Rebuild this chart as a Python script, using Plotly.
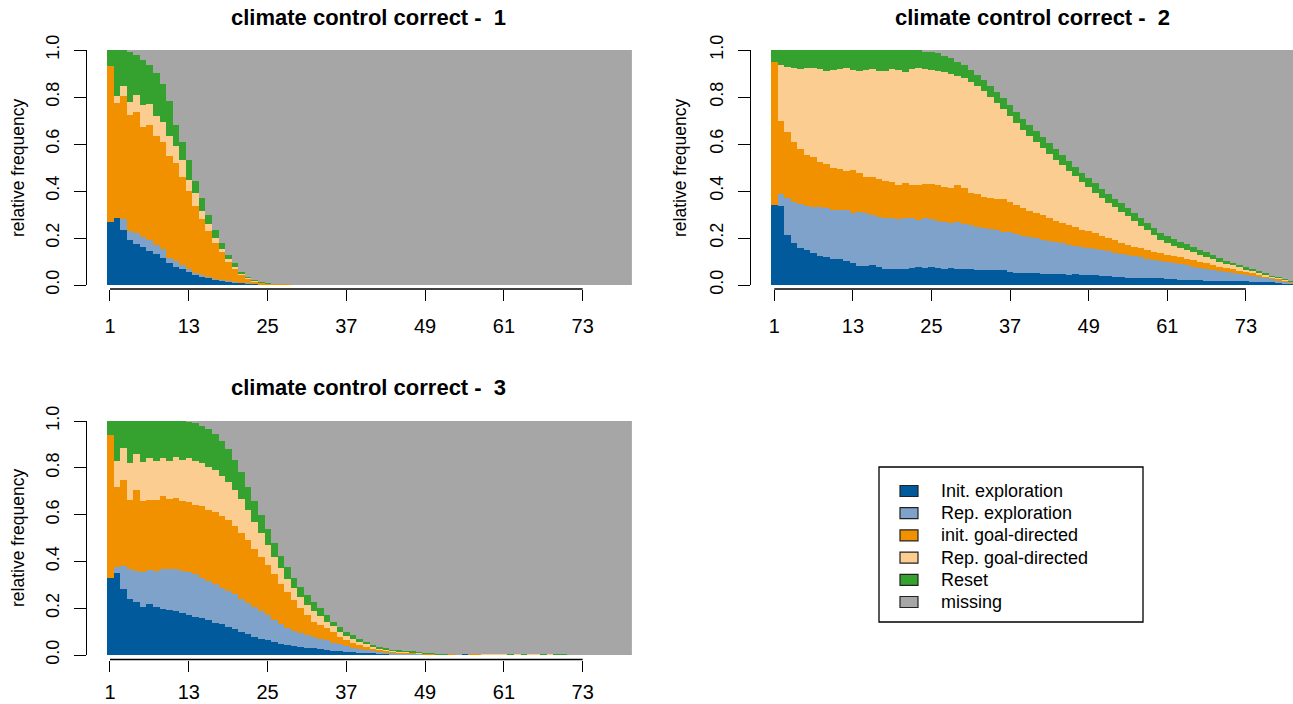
import plotly.graph_objects as go

# ---------------- data (relative frequencies per step) ----------------
steps = list(range(1, 81))
tick_vals = [1, 13, 25, 37, 49, 61, 73]
y_tick_vals = [0, 0.2, 0.4, 0.6, 0.8, 1.0]
y_tick_text = ["0.0", "0.2", "0.4", "0.6", "0.8", "1.0"]

series_names = ["Init. exploration", "Rep. exploration", "init. goal-directed",
                "Rep. goal-directed", "Reset", "missing"]
series_colors = ["#005a9b", "#7fa2ca", "#f29100", "#fbcd91", "#35a22f", "#a6a6a6"]

panel_titles = ["climate control correct -  1", "climate control correct -  2",
                "climate control correct -  3"]

# panel 1
p1_init = [0.267, 0.287, 0.236, 0.19, 0.173, 0.16, 0.146, 0.132, 0.113, 0.095,
           0.078, 0.067, 0.057, 0.043, 0.035, 0.031, 0.024, 0.02, 0.016, 0.012,
           0.009, 0.007, 0.005, 0.003, 0.002, 0.001, 0, 0, 0, 0,
           0, 0, 0, 0, 0, 0, 0, 0, 0, 0,
           0, 0, 0, 0, 0, 0, 0, 0, 0, 0,
           0, 0, 0, 0, 0, 0, 0, 0, 0, 0,
           0, 0, 0, 0, 0, 0, 0, 0, 0, 0,
           0, 0, 0, 0, 0, 0, 0, 0, 0, 0]
p1_repexp = [0, 0, 0.045, 0.04, 0.047, 0.043, 0.044, 0.038, 0.039, 0.018,
             0.026, 0.018, 0.01, 0.009, 0.006, 0.004, 0.003, 0.002, 0.001, 0.001,
             0.001, 0.001, 0, 0, 0, 0, 0, 0, 0, 0,
             0, 0, 0, 0, 0, 0, 0, 0, 0, 0,
             0, 0, 0, 0, 0, 0, 0, 0, 0, 0,
             0, 0, 0, 0, 0, 0, 0, 0, 0, 0,
             0, 0, 0, 0, 0, 0, 0, 0, 0, 0,
             0, 0, 0, 0, 0, 0, 0, 0, 0, 0]
p1_initgoal = [0.666, 0.486, 0.525, 0.493, 0.515, 0.471, 0.49, 0.464, 0.458, 0.437,
               0.416, 0.375, 0.333, 0.283, 0.239, 0.195, 0.153, 0.118, 0.083, 0.057,
               0.035, 0.02, 0.011, 0.007, 0.005, 0.004, 0.004, 0.003, 0, 0,
               0, 0, 0, 0, 0, 0, 0, 0, 0, 0,
               0, 0, 0, 0, 0, 0, 0, 0, 0, 0,
               0, 0, 0, 0, 0, 0, 0, 0, 0, 0,
               0, 0, 0, 0, 0, 0, 0, 0, 0, 0,
               0, 0, 0, 0, 0, 0, 0, 0, 0, 0]
p1_repgoal = [0, 0.033, 0.042, 0.057, 0.075, 0.091, 0.09, 0.086, 0.085, 0.085,
              0.07, 0.07, 0.045, 0.055, 0.035, 0.03, 0.02, 0.015, 0.01, 0.008,
              0.005, 0.003, 0.002, 0.001, 0, 0, 0, 0, 0, 0,
              0, 0, 0, 0, 0, 0, 0, 0, 0, 0,
              0, 0, 0, 0, 0, 0, 0, 0, 0, 0,
              0, 0, 0, 0, 0, 0, 0, 0, 0, 0,
              0, 0, 0, 0, 0, 0, 0, 0, 0, 0,
              0, 0, 0, 0, 0, 0, 0, 0, 0, 0]
p1_reset = [0.067, 0.194, 0.152, 0.213, 0.169, 0.192, 0.166, 0.181, 0.159, 0.148,
            0.091, 0.08, 0.087, 0.053, 0.054, 0.038, 0.034, 0.022, 0.018, 0.014,
            0.007, 0.004, 0.002, 0.001, 0.001, 0, 0, 0, 0, 0,
            0, 0, 0, 0, 0, 0, 0, 0, 0, 0,
            0, 0, 0, 0, 0, 0, 0, 0, 0, 0,
            0, 0, 0, 0, 0, 0, 0, 0, 0, 0,
            0, 0, 0, 0, 0, 0, 0, 0, 0, 0,
            0, 0, 0, 0, 0, 0, 0, 0, 0, 0]

# panel 2
p2_init = [0.34, 0.338, 0.213, 0.177, 0.156, 0.149, 0.135, 0.125, 0.118, 0.11,
           0.11, 0.102, 0.092, 0.082, 0.082, 0.085, 0.078, 0.068, 0.068, 0.07,
           0.07, 0.073, 0.078, 0.073, 0.078, 0.073, 0.068, 0.073, 0.068, 0.068,
           0.068, 0.064, 0.064, 0.064, 0.064, 0.064, 0.057, 0.05, 0.05, 0.05,
           0.049, 0.047, 0.046, 0.045, 0.045, 0.044, 0.045, 0.043, 0.044, 0.043,
           0.04, 0.037, 0.034, 0.032, 0.031, 0.03, 0.029, 0.029, 0.028, 0.028,
           0.026, 0.025, 0.023, 0.022, 0.021, 0.02, 0.019, 0.018, 0.018, 0.017,
           0.016, 0.016, 0.015, 0.014, 0.014, 0.012, 0.011, 0.01, 0.008, 0.006]
p2_repexp = [0, 0.049, 0.156, 0.175, 0.187, 0.187, 0.198, 0.205, 0.208, 0.209,
             0.209, 0.217, 0.213, 0.23, 0.223, 0.213, 0.212, 0.216, 0.216, 0.209,
             0.214, 0.211, 0.199, 0.211, 0.201, 0.199, 0.202, 0.192, 0.202, 0.192,
             0.187, 0.184, 0.18, 0.174, 0.17, 0.163, 0.167, 0.167, 0.16, 0.155,
             0.15, 0.146, 0.142, 0.137, 0.132, 0.128, 0.122, 0.12, 0.114, 0.11,
             0.108, 0.106, 0.104, 0.101, 0.097, 0.093, 0.089, 0.083, 0.079, 0.074,
             0.071, 0.067, 0.065, 0.061, 0.057, 0.054, 0.051, 0.047, 0.043, 0.04,
             0.037, 0.032, 0.029, 0.026, 0.021, 0.018, 0.015, 0.011, 0.008, 0.005]
p2_initgoal = [0.608, 0.311, 0.281, 0.258, 0.236, 0.217, 0.21, 0.192, 0.187, 0.181,
               0.175, 0.166, 0.184, 0.163, 0.156, 0.163, 0.161, 0.159, 0.153, 0.147,
               0.149, 0.142, 0.149, 0.144, 0.149, 0.154, 0.148, 0.149, 0.156, 0.154,
               0.135, 0.138, 0.132, 0.134, 0.132, 0.139, 0.131, 0.123, 0.116, 0.11,
               0.106, 0.103, 0.097, 0.091, 0.085, 0.082, 0.078, 0.073, 0.07, 0.067,
               0.062, 0.057, 0.052, 0.047, 0.042, 0.04, 0.038, 0.037, 0.035, 0.033,
               0.032, 0.031, 0.03, 0.029, 0.028, 0.025, 0.022, 0.02, 0.017, 0.014,
               0.013, 0.012, 0.01, 0.009, 0.008, 0.007, 0.005, 0.005, 0.004, 0.003]
p2_repgoal = [0, 0.238, 0.279, 0.312, 0.34, 0.372, 0.379, 0.397, 0.398, 0.415,
              0.425, 0.437, 0.426, 0.436, 0.454, 0.458, 0.46, 0.468, 0.482, 0.489,
              0.475, 0.493, 0.499, 0.491, 0.487, 0.485, 0.487, 0.482, 0.464, 0.465,
              0.472, 0.459, 0.449, 0.428, 0.409, 0.382, 0.365, 0.35, 0.334, 0.317,
              0.303, 0.288, 0.273, 0.26, 0.247, 0.231, 0.217, 0.202, 0.188, 0.173,
              0.161, 0.15, 0.14, 0.131, 0.122, 0.109, 0.096, 0.084, 0.07, 0.057,
              0.049, 0.045, 0.04, 0.036, 0.033, 0.03, 0.027, 0.024, 0.022, 0.02,
              0.018, 0.016, 0.014, 0.012, 0.01, 0.008, 0.006, 0.004, 0.003, 0.002]
p2_reset = [0.052, 0.064, 0.071, 0.078, 0.081, 0.075, 0.078, 0.081, 0.089, 0.085,
            0.081, 0.078, 0.085, 0.089, 0.085, 0.081, 0.089, 0.089, 0.081, 0.085,
            0.092, 0.081, 0.075, 0.076, 0.075, 0.075, 0.071, 0.069, 0.06, 0.057,
            0.053, 0.049, 0.047, 0.048, 0.048, 0.046, 0.046, 0.048, 0.046, 0.048,
            0.047, 0.046, 0.045, 0.044, 0.043, 0.042, 0.041, 0.04, 0.039, 0.04,
            0.039, 0.038, 0.037, 0.036, 0.035, 0.034, 0.033, 0.032, 0.031, 0.03,
            0.029, 0.027, 0.026, 0.025, 0.023, 0.022, 0.021, 0.02, 0.015, 0.011,
            0.01, 0.009, 0.008, 0.006, 0.005, 0.004, 0.003, 0.002, 0.001, 0.001]

# panel 3
p3_init = [0.33, 0.352, 0.28, 0.24, 0.226, 0.207, 0.217, 0.207, 0.198, 0.192,
           0.188, 0.178, 0.171, 0.164, 0.157, 0.15, 0.138, 0.131, 0.121, 0.11,
           0.098, 0.088, 0.078, 0.07, 0.064, 0.056, 0.048, 0.041, 0.038, 0.034,
           0.031, 0.028, 0.024, 0.021, 0.018, 0.015, 0.013, 0.011, 0.01, 0.009,
           0.007, 0.006, 0.005, 0.004, 0.004, 0.003, 0.003, 0.002, 0.002, 0.002,
           0.001, 0, 0, 0, 0.003, 0, 0, 0, 0, 0,
           0, 0, 0, 0, 0, 0, 0, 0, 0, 0,
           0, 0, 0, 0, 0, 0, 0, 0, 0, 0]
p3_repexp = [0, 0.025, 0.1, 0.126, 0.133, 0.148, 0.146, 0.152, 0.168, 0.177,
             0.178, 0.181, 0.184, 0.181, 0.173, 0.166, 0.164, 0.157, 0.153, 0.149,
             0.143, 0.136, 0.129, 0.118, 0.106, 0.094, 0.083, 0.074, 0.065, 0.061,
             0.054, 0.05, 0.046, 0.041, 0.032, 0.03, 0.025, 0.021, 0.017, 0.013,
             0.011, 0.008, 0.006, 0.005, 0.004, 0.004, 0.003, 0.003, 0.002, 0.001,
             0.001, 0.001, 0, 0, 0, 0, 0, 0, 0, 0,
             0, 0, 0, 0, 0, 0, 0, 0, 0, 0,
             0, 0, 0, 0, 0, 0, 0, 0, 0, 0]
p3_initgoal = [0.609, 0.343, 0.37, 0.298, 0.348, 0.302, 0.301, 0.305, 0.312, 0.296,
               0.306, 0.301, 0.297, 0.298, 0.305, 0.304, 0.308, 0.307, 0.301, 0.291,
               0.279, 0.266, 0.248, 0.232, 0.215, 0.195, 0.174, 0.155, 0.132, 0.105,
               0.086, 0.064, 0.06, 0.052, 0.05, 0.033, 0.026, 0.021, 0.016, 0.014,
               0.011, 0.008, 0.007, 0.006, 0.004, 0.003, 0.003, 0.002, 0.002, 0.002,
               0.001, 0.001, 0.003, 0, 0, 0.004, 0.004, 0, 0, 0,
               0, 0, 0, 0, 0, 0, 0, 0, 0, 0,
               0, 0, 0, 0, 0, 0, 0, 0, 0, 0]
p3_repgoal = [0, 0.109, 0.136, 0.156, 0.15, 0.168, 0.179, 0.166, 0.162, 0.165,
              0.176, 0.175, 0.188, 0.187, 0.185, 0.185, 0.18, 0.17, 0.165, 0.155,
              0.145, 0.13, 0.115, 0.1, 0.085, 0.075, 0.065, 0.055, 0.05, 0.05,
              0.043, 0.048, 0.037, 0.028, 0.022, 0.022, 0.018, 0.015, 0.012, 0.01,
              0.007, 0.006, 0.005, 0.004, 0.004, 0.003, 0.002, 0.002, 0.002, 0.001,
              0.001, 0.001, 0, 0, 0, 0, 0, 0.003, 0.003, 0.003,
              0.003, 0, 0.003, 0, 0.003, 0.003, 0, 0.003, 0, 0,
              0, 0, 0, 0, 0, 0, 0, 0, 0, 0]
p3_reset = [0.061, 0.171, 0.114, 0.18, 0.143, 0.175, 0.157, 0.17, 0.16, 0.17,
            0.152, 0.165, 0.157, 0.16, 0.16, 0.16, 0.155, 0.15, 0.14, 0.13,
            0.115, 0.1, 0.09, 0.08, 0.07, 0.06, 0.055, 0.05, 0.045, 0.04,
            0.042, 0.038, 0.033, 0.029, 0.02, 0.021, 0.018, 0.017, 0.012, 0.011,
            0.007, 0.005, 0.005, 0.004, 0.004, 0.004, 0.004, 0.003, 0.002, 0.002,
            0.002, 0.001, 0, 0, 0, 0, 0, 0, 0, 0,
            0, 0.004, 0, 0.004, 0, 0, 0.004, 0, 0.004, 0.004,
            0, 0, 0, 0, 0, 0, 0, 0, 0, 0]

panels = [
    [p1_init, p1_repexp, p1_initgoal, p1_repgoal, p1_reset],
    [p2_init, p2_repexp, p2_initgoal, p2_repgoal, p2_reset],
    [p3_init, p3_repexp, p3_initgoal, p3_repgoal, p3_reset],
]

# ---------------- layout geometry ----------------
W, H = 1293, 704
FONT = "Liberation Sans, Arial, sans-serif"


def fx(p):
    return p / W


def fy(p):
    return 1 - p / H


axis_ids = [("x", "y"), ("x2", "y2"), ("x3", "y3")]

fig = go.Figure()

for pi, series in enumerate(panels):
    xa, ya = axis_ids[pi]
    n = len(steps)
    missing = [max(0.0, round(1 - sum(s[i] for s in series), 3)) for i in range(n)]
    all_series = series + [missing]
    for si, vals in enumerate(all_series):
        fig.add_trace(go.Bar(
            x=steps, y=vals, xaxis=xa, yaxis=ya,
            name=series_names[si], legendgroup=series_names[si],
            marker=dict(color=series_colors[si], line=dict(width=0)),
            showlegend=False, hoverinfo="skip",
        ))

xdom_left = [fx(106.7), fx(631.9)]
xdom_right = [fx(771.0), 1.0]
ydom_top = [fy(285), fy(50)]
ydom_bot = [fy(655), fy(421)]

xcommon = dict(
    tickmode="array", tickvals=tick_vals, ticks="outside", ticklen=11, tickwidth=1.3,
    tickcolor="#000", showline=False, showgrid=False, zeroline=False,
    tickfont=dict(family=FONT, size=20, color="#000"), anchor="free",
    fixedrange=True, automargin=False,
)
ycommon = dict(
    range=[0, 1], tickmode="array", tickvals=y_tick_vals, ticktext=y_tick_text,
    ticks="outside", ticklen=12, tickwidth=1.3, tickcolor="#000",
    showline=True, linecolor="#000", linewidth=1.3, showgrid=False, zeroline=False,
    tickangle=-90, tickfont=dict(family=FONT, size=18, color="#000"),
    anchor="free", ticklabelstandoff=8, fixedrange=True, automargin=False,
)

fig.update_layout(
    width=W, height=H, margin=dict(l=0, r=0, t=0, b=0, pad=0, autoexpand=False),
    paper_bgcolor="white", plot_bgcolor="white",
    barmode="stack", bargap=0, bargroupgap=0,
    xaxis=dict(domain=xdom_left, range=[0.5, 80.5], position=fy(289),
               ticklabelstandoff=8, **xcommon),
    yaxis=dict(domain=ydom_top, position=fx(86), **ycommon),
    xaxis2=dict(domain=xdom_right, range=[0.5, 80.19], position=fy(289),
                ticklabelstandoff=8, **xcommon),
    yaxis2=dict(domain=ydom_top, position=fx(750), **ycommon),
    xaxis3=dict(domain=xdom_left, range=[0.5, 80.5], position=fy(659.5),
                ticklabelstandoff=3, **xcommon),
    yaxis3=dict(domain=ydom_bot, position=fx(86), **ycommon),
    showlegend=False,
)

# axis lines along the x axes (from the first to the last labelled tick)
for xa, ypos in [("x", fy(289)), ("x2", fy(289)), ("x3", fy(659.5))]:
    fig.add_shape(type="line", xref=xa, yref="paper", x0=tick_vals[0], x1=tick_vals[-1],
                  y0=ypos, y1=ypos, line=dict(color="#000", width=1.3))

# legend (key) : frame, swatches and labels
fig.add_shape(type="rect", xref="paper", yref="paper", x0=fx(879), x1=fx(1143),
              y0=fy(622), y1=fy(467), line=dict(color="#000", width=1.3),
              fillcolor="rgba(0,0,0,0)")
row_y0, row_dy = 491.0, 22.2
for si, nm in enumerate(series_names):
    cy = row_y0 + si * row_dy
    fig.add_shape(type="rect", xref="paper", yref="paper",
                  x0=fx(900), x1=fx(918), y0=fy(cy + 5.5), y1=fy(cy - 5.5),
                  line=dict(color="#222", width=1.2), fillcolor=series_colors[si])
    fig.add_annotation(text=nm, x=fx(939), y=fy(cy), xref="paper", yref="paper",
                       showarrow=False, xanchor="left", yanchor="middle",
                       font=dict(family=FONT, size=18, color="#000"))

# titles
title_pos = [(368, 18), (1032, 18), (368, 387)]
for t, (tx, ty) in zip(panel_titles, title_pos):
    fig.add_annotation(text="<b>" + t + "</b>", x=fx(tx), y=fy(ty), xref="paper", yref="paper",
                       showarrow=False, xanchor="center", yanchor="middle",
                       font=dict(family=FONT, size=22, color="#000"))

# y axis titles
ylab_pos = [(18, 168), (680, 168), (18, 538)]
for (lx, ly) in ylab_pos:
    fig.add_annotation(text="relative frequency", x=fx(lx), y=fy(ly), xref="paper", yref="paper",
                       showarrow=False, textangle=-90, xanchor="center", yanchor="middle",
                       font=dict(family=FONT, size=17.5, color="#000"))

fig.write_html("out.html", config={"displayModeBar": False})
